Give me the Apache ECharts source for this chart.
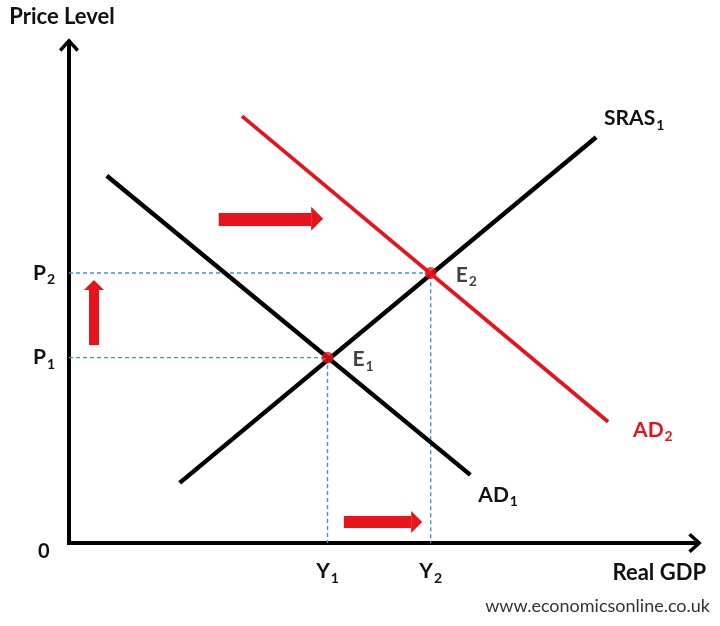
<!DOCTYPE html>
<html><head><meta charset="utf-8">
<script src="https://cdn.jsdelivr.net/npm/echarts@6/dist/echarts.min.js"></script>
<style>html,body{margin:0;padding:0;background:#fff}#c{width:720px;height:626px}</style>
</head><body><div id="c"></div>
<script>
// Curves (x: Real GDP, y: Price Level, abstract units 0-100)
const AD1 = [[6.0, 73.3], [63.8, 13.6]];
const SRAS1 = [[17.6, 12.0], [83.8, 81.0]];
const AD2 = [[27.5, 85.2], [85.7, 24.2]];
// Equilibria
const eqNames = ['E', 'E'];
const eqSubs = ['1', '2'];
const equilibria = [[41.1, 37.0], [57.5, 53.9]];
// Tick labels
const priceTicks = [37.0, 53.9];
const priceNames = ['P', 'P'];
const outputTicks = [41.1, 57.5];
const outputNames = ['Y', 'Y'];
const tickSubs = ['1', '2'];
// Shift arrows (tail -> base of head)
const arrowRight = [[23.8, 64.7], [38.5, 64.7]];
const arrowUp = [[3.97, 39.5], [3.97, 50.5]];
const arrowBottom = [[43.7, 4.2], [54.4, 4.2]];

const FONT = 'Lato, "Open Sans", sans-serif';
const RED = '#e8141c';
const BLUE = '#3f97cf';
const chevron = 'path://M10,0 L20,11 L17.5,13.5 L10,5 L2.5,13.5 L0,11 Z';
// triangle head in the upper half of a square box: base sits on the line end
const head = 'path://M1,0 L2,1 L0,1 Z M0,2 Z';
const rich = {
  m: {fontFamily: FONT, fontSize: 21, fontWeight: 'bold', color: '#111'},
  s: {fontFamily: FONT, fontSize: 14, fontWeight: 'bold', color: '#111', padding: [14, 0, 0, 1]},
  mr: {fontFamily: FONT, fontSize: 21, fontWeight: 'bold', color: RED},
  sr: {fontFamily: FONT, fontSize: 14, fontWeight: 'bold', color: RED, padding: [14, 0, 0, 1]}
};
function sub(main, s, red) { return red ? '{mr|' + main + '}{sr|' + s + '}' : '{m|' + main + '}{s|' + s + '}'; }

const chart = echarts.init(document.getElementById('c'));
chart.setOption({
  animation: false,
  backgroundColor: '#fff',
  grid: {left: 69, right: 22, top: 42, bottom: 83},
  xAxis: {
    type: 'value', min: 0, max: 100,
    splitLine: {show: false}, axisTick: {show: false},
    axisLine: {lineStyle: {color: '#000', width: 4, cap: 'square'}, symbol: ['none', chevron], symbolSize: [20, 14], symbolOffset: [0, -3]},
    axisLabel: {
      customValues: outputTicks, margin: 14, rich: rich,
      formatter: function (v) { const i = outputTicks.indexOf(v); return i < 0 ? '' : sub(outputNames[i], tickSubs[i]); }
    },
    name: 'Real GDP', nameLocation: 'end', nameGap: 8,
    nameTextStyle: {fontFamily: FONT, fontSize: 22, fontWeight: 'bold', color: '#111', align: 'right', verticalAlign: 'top', padding: [19, 0, 0, 0]}
  },
  yAxis: {
    type: 'value', min: 0, max: 100,
    splitLine: {show: false}, axisTick: {show: false},
    axisLine: {lineStyle: {color: '#000', width: 4, cap: 'square'}, symbol: ['none', chevron], symbolSize: [20, 14], symbolOffset: [0, -3]},
    axisLabel: {
      customValues: priceTicks, margin: 14, rich: rich,
      formatter: function (v) { const i = priceTicks.indexOf(v); return i < 0 ? '' : sub(priceNames[i], tickSubs[i]); }
    },
    name: 'Price Level', nameLocation: 'end', nameGap: 14,
    nameTextStyle: {fontFamily: FONT, fontSize: 22, fontWeight: 'bold', color: '#111', align: 'center', padding: [0, 14, 0, 0]}
  },
  graphic: [
    {type: 'text', left: 38, top: 542, style: {text: '0', font: 'bold 20px ' + FONT, fill: '#111'}},
    {type: 'text', right: 10, top: 597, style: {text: 'www.economicsonline.co.uk', font: '18px ' + FONT, fill: '#333'}}
  ],
  series: [
    {type: 'line', data: [[0, equilibria[0][1]], equilibria[0], [equilibria[0][0], 0]], symbol: 'none', z: 1,
      lineStyle: {color: BLUE, width: 1.4, type: [4, 3]}},
    {type: 'line', data: [[0, equilibria[1][1]], equilibria[1], [equilibria[1][0], 0]], symbol: 'none', z: 1,
      lineStyle: {color: BLUE, width: 1.4, type: [4, 3]}},
    {type: 'line', data: AD1, symbol: 'none', z: 3, lineStyle: {color: '#000', width: 4.5},
      endLabel: {show: true, formatter: sub('AD', '1'), rich: rich, distance: 8, offset: [0, 20]}},
    {type: 'line', data: SRAS1, symbol: 'none', z: 3, lineStyle: {color: '#000', width: 4.5},
      endLabel: {show: true, formatter: sub('SRAS', '1'), rich: rich, distance: 8, offset: [0, -19]}},
    {type: 'line', data: AD2, symbol: 'none', z: 3, lineStyle: {color: RED, width: 3.8},
      endLabel: {show: true, formatter: sub('AD', '2', true), rich: rich, distance: 25, offset: [0, 8]}},
    {type: 'scatter', data: equilibria, symbolSize: 12, z: 5, itemStyle: {color: RED},
      label: {show: true, position: 'right', distance: 19, offset: [0, 2], rich: rich,
        formatter: function (p) { return sub(eqNames[p.dataIndex], eqSubs[p.dataIndex]); }}},
    {type: 'lines', coordinateSystem: 'cartesian2d', z: 4, data: [{coords: arrowRight}],
      lineStyle: {color: RED, width: 13, opacity: 1, curveness: 0}, symbol: ['none', head], symbolSize: 24},
    {type: 'lines', coordinateSystem: 'cartesian2d', z: 4, data: [{coords: arrowUp}],
      lineStyle: {color: RED, width: 10, opacity: 1, curveness: 0}, symbol: ['none', head], symbolSize: 20},
    {type: 'lines', coordinateSystem: 'cartesian2d', z: 4, data: [{coords: arrowBottom}],
      lineStyle: {color: RED, width: 12, opacity: 1, curveness: 0}, symbol: ['none', head], symbolSize: 22}
  ]
});
</script></body></html>
